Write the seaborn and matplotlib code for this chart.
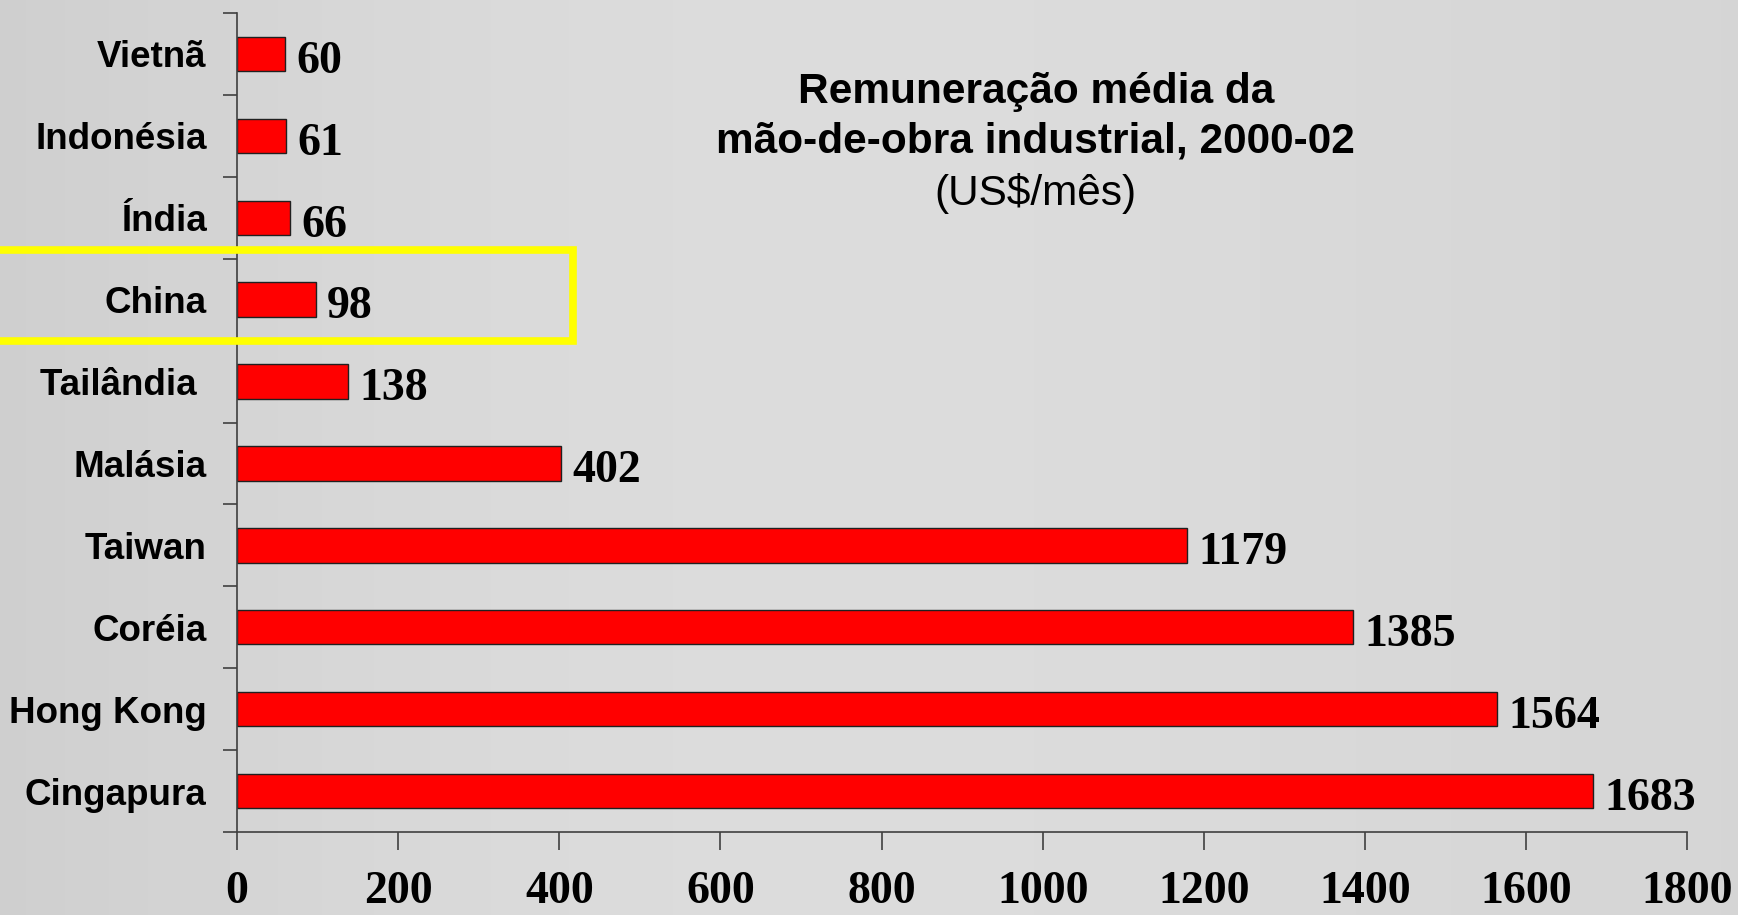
import numpy as np
import pandas as pd
import matplotlib
matplotlib.use("Agg")
import matplotlib.pyplot as plt
from matplotlib.patches import Rectangle
import seaborn as sns

# Data
countries = ["Vietnã", "Indonésia", "Índia", "China", "Tailândia ", "Malásia",
             "Taiwan", "Coréia", "Hong Kong", "Cingapura"]
wages = [60, 61, 66, 98, 138, 402, 1179, 1385, 1564, 1683]
x_ticks = [0, 200, 400, 600, 800, 1000, 1200, 1400, 1600, 1800]

df = pd.DataFrame({"País": countries, "Remuneração": wages})

sns.set_style("white")
plt.rcParams["font.family"] = ["Liberation Sans", "DejaVu Sans"]
plt.rcParams["text.color"] = "black"
plt.rcParams["xtick.color"] = "#404040"
plt.rcParams["ytick.color"] = "#404040"
plt.rcParams["xtick.labelcolor"] = "black"
plt.rcParams["ytick.labelcolor"] = "black"

fig = plt.figure(figsize=(17.38, 9.15), dpi=100)
fig.patch.set_facecolor("#d8d8d8")

# soft gray background gradient
bg = fig.add_axes([0, 0, 1, 1], zorder=-10)
grad = np.linspace(0, 1, 400)
shade = 0.81 + 0.03 * np.sin(grad * np.pi * 1.3) + 0.05 * grad
bg.imshow(np.tile(shade, (10, 1)), cmap="gray", vmin=0, vmax=1,
          aspect="auto", extent=[0, 1, 0, 1])
bg.axis("off")

ax = fig.add_axes([0.1364, 0.0907, 0.9707 - 0.1364, 0.9858 - 0.0907])
ax.set_facecolor("none")

sns.barplot(data=df, x="Remuneração", y="País", orient="h", color="#ff0000",
            width=0.42, edgecolor="#202020", linewidth=1.0, ax=ax,
            saturation=1)

# value labels at the end of each bar
for bar, val in zip(ax.patches, wages):
    ax.annotate(str(val), (bar.get_width(), bar.get_y() + bar.get_height() / 2),
                xytext=(8, -2), textcoords="offset points", ha="left",
                va="center_baseline", fontsize=33, fontweight="bold",
                family="Liberation Serif", color="black")

ax.set_xlim(0, 1800)
ax.set_ylim(len(countries) - 0.5, -0.5)
ax.set_xticks(x_ticks)
ax.set_xticklabels([str(t) for t in x_ticks], fontsize=33, fontweight="bold",
                   family="Liberation Serif")
ax.tick_params(axis="x", bottom=True, direction="out", length=13, width=1.2,
               pad=15)

# category ticks sit between bars
ax.set_yticks(np.arange(len(countries) + 1) - 0.5, minor=True)
ax.tick_params(axis="y", which="minor", left=True, direction="out",
               length=10, width=1.2)
ax.tick_params(axis="y", which="major", left=False, length=0, pad=22)
for lbl in ax.get_yticklabels():
    lbl.set_fontsize(26.5)
    lbl.set_fontweight("bold")

ax.set_xlabel("")
ax.set_ylabel("")
for side in ["top", "right"]:
    ax.spines[side].set_visible(False)
for side in ["left", "bottom"]:
    ax.spines[side].set_color("#404040")
    ax.spines[side].set_linewidth(1.2)

# title block
fig.text(0.596, 0.900, "Remuneração média da", ha="center", va="center",
         fontsize=30.5, fontweight="bold")
fig.text(0.596, 0.845, "mão-de-obra industrial, 2000-02", ha="center",
         va="center", fontsize=30.5, fontweight="bold")
fig.text(0.596, 0.789, "(US$/mês)", ha="center", va="center", fontsize=30.5)

# yellow highlight around China
fig.patches.append(Rectangle((-0.01, 1 - 341 / 915), 573 / 1738 + 0.01,
                             (341 - 250) / 915, transform=fig.transFigure,
                             fill=False, edgecolor="#ffff00", linewidth=5.5,
                             zorder=5))

fig.savefig("out.png", dpi=100, facecolor=fig.get_facecolor())
